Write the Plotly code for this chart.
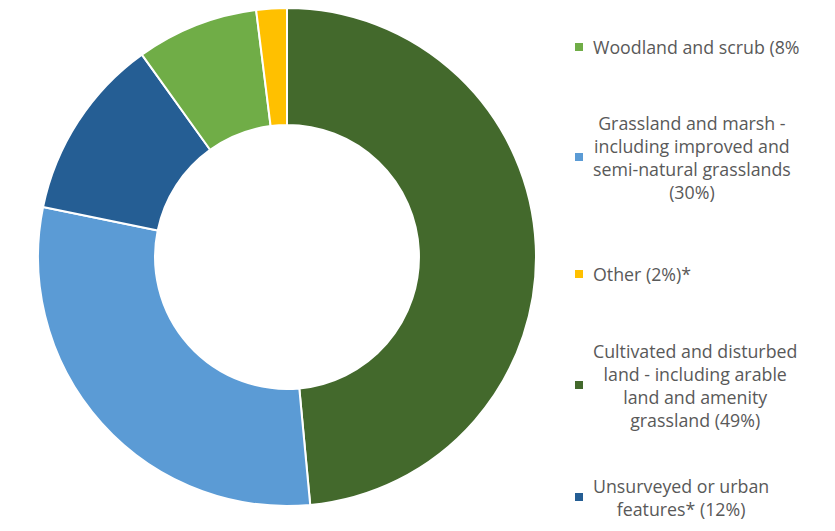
import plotly.graph_objects as go

# Data (clockwise from 12 o'clock)
categories = ["Cultivated and disturbed land", "Grassland and marsh", "Unsurveyed or urban features",
              "Woodland and scrub", "Other"]
values = [49, 30, 12, 8, 2]
colors = ["#43692C", "#5B9BD5", "#255E94", "#70AD47", "#FFC000"]

# Legend entries (top to bottom) and their text
legend_order = [3, 1, 4, 0, 2]
legend_texts = [
    "Woodland and scrub (8%",
    "Grassland and marsh -<br>including improved and<br>semi-natural grasslands<br>(30%)",
    "Other (2%)*",
    "Cultivated and disturbed<br>land - including arable<br>land and amenity<br>grassland (49%)",
    "Unsurveyed or urban<br>features* (12%)",
]

W, H = 835, 531

fig = go.Figure(go.Pie(
    labels=categories, values=values, sort=False, direction="clockwise", rotation=0,
    hole=0.53, marker=dict(colors=colors, line=dict(color="white", width=2)),
    textinfo="none", hoverinfo="label+percent",
    domain=dict(x=[30 / W, 528 / W], y=[1 - 498 / H, 1]),
    showlegend=False,
))

# legend layout (pixel positions of square centers / text block left)
square_y = [39, 149, 266, 377, 489]
square_x = 571
text_x = 583
shapes = []
annotations = []
for i, (idx, txt) in enumerate(zip(legend_order, legend_texts)):
    yc = square_y[i]
    shapes.append(dict(type="rect", xref="paper", yref="paper",
                       x0=(square_x - 4) / W, x1=(square_x + 4) / W,
                       y0=1 - (yc + 4) / H, y1=1 - (yc - 4) / H,
                       fillcolor=colors[idx], line=dict(width=0)))
    annotations.append(dict(xref="paper", yref="paper", x=text_x / W, y=1 - yc / H,
                            xanchor="left", yanchor="middle", align="center",
                            text=txt, showarrow=False,
                            font=dict(family="Open Sans", size=17.8, color="#595959")))

fig.update_layout(width=W, height=H, margin=dict(l=0, r=0, t=0, b=0),
                  paper_bgcolor="white", plot_bgcolor="white",
                  shapes=shapes, annotations=annotations)

fig.write_html("out.html")
